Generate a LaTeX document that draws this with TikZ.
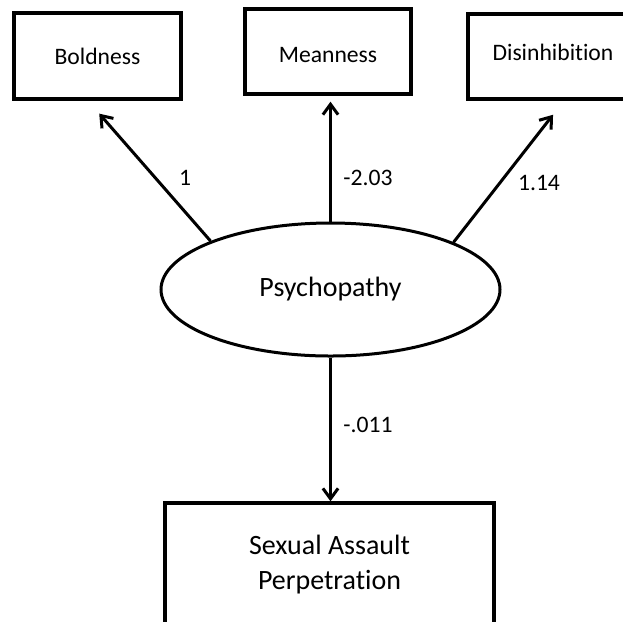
\documentclass[tikz,border=0pt]{standalone}
\usepackage{fontspec}
\setmainfont{Carlito}[Ligatures=NoCommon]
\usepackage{tikz}
\usetikzlibrary{positioning,arrows.meta,shapes.geometric,calc}
\tikzset{
  ind/.style={rectangle, draw=black, line width=0.85mm, align=center,
              font=\fontsize{16.8}{20}\selectfont, inner sep=0pt},
  lat/.style={ellipse, draw=black, line width=0.75mm, inner sep=0pt,
              minimum width=84.75mm, minimum height=33.25mm,
              font=\fontsize{19.9}{24.9}\selectfont},
  outc/.style={rectangle, draw=black, line width=0.85mm, align=center,
               font=\fontsize{19.9}{24.9}\selectfont, inner sep=0pt},
  path/.style={-{Straight Barb[length=2.6mm,width=3.8mm]}, line width=0.75mm},
  coef/.style={font=\fontsize{16.8}{20}\selectfont, inner sep=0pt},
}
\begin{document}
\begin{tikzpicture}[x=1mm,y=1mm]
  \useasboundingbox (0,0) rectangle (155.75,-155.25);
  \clip (0,0) rectangle (155.75,-155.25);

  % indicators
  \node[ind, minimum width=41.75mm, minimum height=21.5mm] (bold) at (24.375,-14) {Boldness};
  \node[ind, minimum width=41.5mm, minimum height=21.25mm] (mean) at (82,-12.875) {\raisebox{-0.9mm}[\height][\depth]{Meanness}};
  \node[ind, minimum width=42.5mm, minimum height=21.25mm] (dis) at (138.25,-14.125) {\raisebox{1.1mm}[\height][\depth]{Disinhibition}};

  % latent factor and outcome
  \node[lat] (psy) at (82.625,-72.375) {Psychopathy};
  \node[outc, minimum width=82.25mm, minimum height=30.75mm] (sap) at (82.375,-141.125) {Sexual Assault\\Perpetration};

  % loadings
  \draw[path, shorten >=4.3mm] (psy.158.5) -- ([xshift=-2.4mm]bold.south);
  \draw[path, shorten >=1.5mm] (psy.north) -- (psy.north |- mean.south);
  \draw[path, shorten >=4.45mm] (psy.21.5) -- ([xshift=2.75mm]dis.south);
  \draw[path] (psy.south) -- (psy.south |- sap.north);

  % coefficients
  \node[coef] (c1) at (46.25,-44.5) {1};
  \node[coef] (c2) at (92,-44.5) {-2.03};
  \node[coef] (c3) at (134.75,-45.75) {1.14};
  \node[coef] (c4) at (92,-106.25) {-.011};
\end{tikzpicture}
\end{document}
